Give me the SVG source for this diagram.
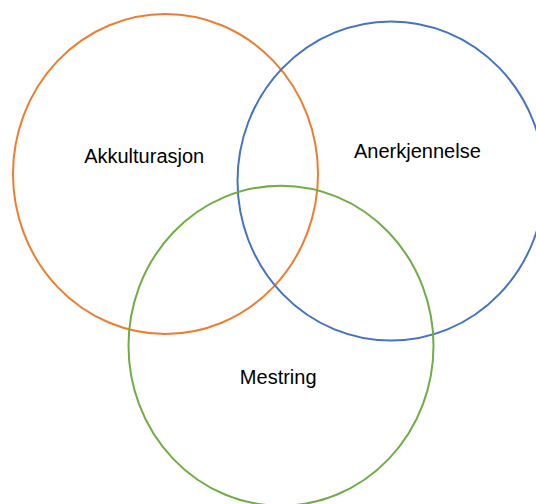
<svg xmlns="http://www.w3.org/2000/svg" width="536" height="504" viewBox="0 0 536 504">
<style>
.c{fill:none;stroke-width:2}
.t{font-family:"Liberation Sans",Arial,sans-serif;font-size:20px;fill:#000;text-anchor:middle}
</style>
<rect width="536" height="504" fill="#fff"/>
<g id="akkulturasjon">
<ellipse class="c" cx="165.5" cy="174" rx="152.5" ry="160" stroke="#ED7D31"/>
<text class="t" x="144.2" y="163">Akkulturasjon</text>
</g>
<g id="anerkjennelse">
<ellipse class="c" cx="391" cy="181" rx="153.5" ry="159.6" stroke="#4472C4"/>
<text class="t" x="417.4" y="158">Anerkjennelse</text>
</g>
<g id="mestring">
<ellipse class="c" cx="281" cy="345.7" rx="152.5" ry="160" stroke="#70AD47"/>
<text class="t" x="278.2" y="384">Mestring</text>
</g>
</svg>
